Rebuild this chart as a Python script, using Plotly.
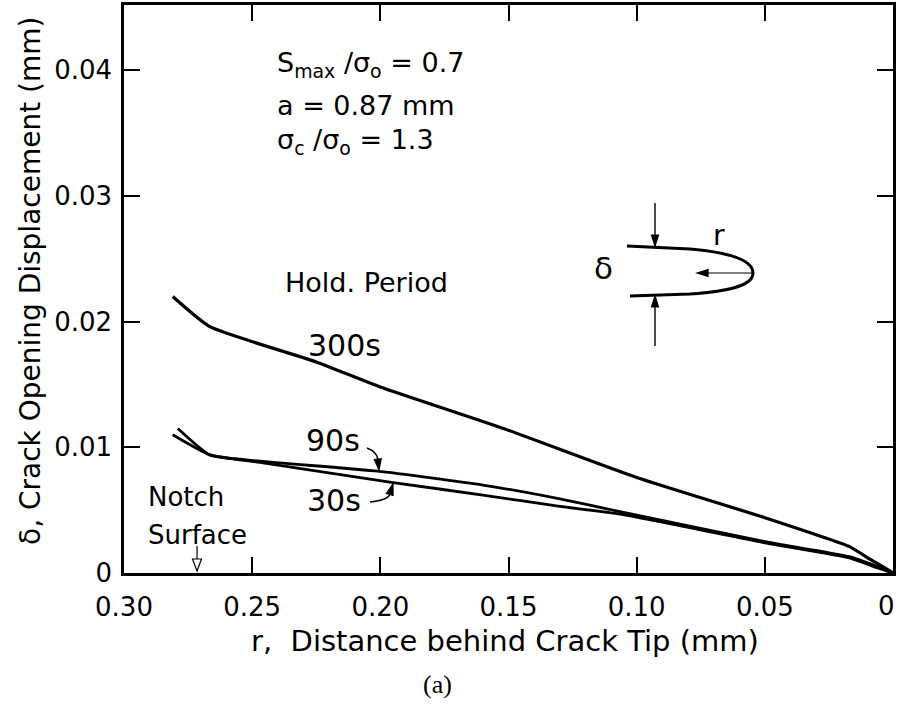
import math
import plotly.graph_objects as go

# Crack opening displacement profiles behind the crack tip for three hold periods
r_300 = [0.281, 0.2665, 0.225, 0.200, 0.152, 0.100, 0.050, 0.017, 0.009, 0.004, 0.0]
d_300 = [0.0220, 0.0196, 0.0168, 0.0148, 0.0115, 0.0076, 0.0044, 0.0021, 0.0011, 0.0005, 0.0]

r_90 = [0.279, 0.2665, 0.247, 0.201, 0.160, 0.130, 0.107, 0.050, 0.017, 0.006, 0.0]
d_90 = [0.0115, 0.0094, 0.0089, 0.0081, 0.0070, 0.0059, 0.0049, 0.0025, 0.0013, 0.0005, 0.0]

r_30 = [0.281, 0.2665, 0.247, 0.195, 0.160, 0.130, 0.107, 0.050, 0.017, 0.006, 0.0]
d_30 = [0.0110, 0.0094, 0.0088, 0.0072, 0.0062, 0.0053, 0.0047, 0.0024, 0.0012, 0.0004, 0.0]

x_ticks = [0.30, 0.25, 0.20, 0.15, 0.10, 0.05, 0.0]
x_ticktext = ["0.30", "0.25", "0.20", "0.15", "0.10", "0.05", "0"]
y_ticks = [0.0, 0.01, 0.02, 0.03, 0.04]
y_ticktext = ["0", "0.01", "0.02", "0.03", "0.04"]

FONT = "DejaVu Sans"
W, H = 898, 704
ML, MR, MT, MB = 124, 5, 5, 131
PW, PH = W - ML - MR, H - MT - MB


def px(X):
    """Page pixel column -> paper x."""
    return (X - ML) / PW


def py(Y):
    """Page pixel row -> paper y."""
    return (H - MB - Y) / PH


fig = go.Figure()
for r, d, w in [(r_300, d_300, 3.2), (r_90, d_90, 2.8), (r_30, d_30, 2.8)]:
    fig.add_trace(go.Scatter(
        x=r, y=d, mode="lines",
        line=dict(color="black", width=w, shape="spline", smoothing=0.5),
        showlegend=False, hoverinfo="skip",
    ))

ann = []
shapes = []


def label(text, X, Y, xanchor="center", size=26, family=FONT):
    ann.append(dict(text=text, x=px(X), y=py(Y), xref="paper", yref="paper",
                    xanchor=xanchor, yanchor="middle", showarrow=False,
                    font=dict(family=family, size=size, color="black")))


def arrow(Xh, Yh, Xt, Yt, ctrl=None, head_len=11, head_w=7, width=1.4,
          fill="black"):
    """Arrow from tail (Xt, Yt) to head (Xh, Yh); optional quadratic bend."""
    sx, sy = ctrl if ctrl else (Xt, Yt)
    dx, dy = Xh - sx, Yh - sy
    n = math.hypot(dx, dy)
    ux, uy = dx / n, dy / n
    bx, by = Xh - ux * head_len, Yh - uy * head_len
    qx, qy = -uy * head_w / 2, ux * head_w / 2
    if ctrl:
        stem = (f"M {px(Xt)} {py(Yt)} Q {px(ctrl[0])} {py(ctrl[1])} "
                f"{px(bx)} {py(by)}")
    else:
        stem = f"M {px(Xt)} {py(Yt)} L {px(bx)} {py(by)}"
    shapes.append(dict(type="path", path=stem, xref="paper", yref="paper",
                       line=dict(color="black", width=width)))
    head = (f"M {px(Xh)} {py(Yh)} L {px(bx + qx)} {py(by + qy)} "
            f"L {px(bx - qx)} {py(by - qy)} Z")
    shapes.append(dict(type="path", path=head, xref="paper", yref="paper",
                       fillcolor=fill, line=dict(color="black", width=1.2)))


# Loading parameters
label("S<sub>max</sub> /σ<sub>o</sub> = 0.7", 275, 64, "left", size=27)
label("a = 0.87 mm", 275, 105, "left", size=27)
label("σ<sub>c</sub> /σ<sub>o</sub> = 1.3", 275, 141, "left", size=27)

# Curve labels
label("Hold. Period", 366, 282, size=27)
label("300s", 344, 345, size=30)
label("90s", 333, 440, size=30)
label("30s", 334, 500, size=30)
label("Notch", 146, 497, "left")
label("Surface", 146, 535, "left")
arrow(197, 571, 197, 546, head_len=12, head_w=9, width=1.2, fill="white")

# Pointers from the 90s / 30s labels to their curves
arrow(379, 470, 367, 448, ctrl=(377, 452))
arrow(393, 484, 370, 502, ctrl=(388, 500))

# Crack-tip sketch: delta across the faces, r measured back from the tip
label("δ", 603, 268, size=31)
label("r", 719, 236, size=28)
arrow(655, 246, 655, 203)
arrow(655, 296, 655, 346)
arrow(697, 273, 752, 273, width=1.2)

crack = (
    f"M {px(627)} {py(246)} L {px(690)} {py(249)} "
    f"C {px(735)} {py(253)} {px(753)} {py(262)} {px(753)} {py(273)} "
    f"C {px(753)} {py(284)} {px(735)} {py(291)} {px(690)} {py(294)} "
    f"L {px(630)} {py(296)}"
)
shapes.append(dict(type="path", path=crack, xref="paper", yref="paper",
                   line=dict(color="black", width=3)))

# The crack-tip tick label sits against the page edge; draw it right-aligned
# so it stays fully on the page.
tip_label = x_ticktext[-1]
x_ticktext_drawn = x_ticktext[:-1] + [""]
ann.append(dict(text=tip_label, x=1.0, y=py(606), xref="paper", yref="paper",
                xanchor="right", yanchor="middle", xshift=4, showarrow=False,
                font=dict(family=FONT, size=26, color="black")))

# Axis titles and panel label
ann.append(dict(text="r,  Distance behind Crack Tip (mm)", x=px(505), y=py(641),
                xref="paper", yref="paper", showarrow=False, xanchor="center",
                yanchor="middle", font=dict(family=FONT, size=29, color="black")))
ann.append(dict(text="δ, Crack Opening Displacement (mm)", x=px(30), y=py(281),
                xref="paper", yref="paper", showarrow=False, textangle=-90,
                xanchor="center", yanchor="middle",
                font=dict(family=FONT, size=28, color="black")))
label("(a)", 437, 684, size=26, family="Liberation Serif")

axis_common = dict(
    showline=True, linecolor="black", linewidth=2.5, mirror="allticks",
    ticks="inside", ticklen=16, tickwidth=1.5, tickcolor="black",
    showgrid=False, zeroline=False, automargin=False,
    tickfont=dict(family=FONT, size=26, color="black"),
)

fig.update_layout(
    width=W, height=H,
    margin=dict(l=ML, r=MR, t=MT, b=MB),
    paper_bgcolor="white", plot_bgcolor="white",
    xaxis=dict(range=[0.30, 0.0], tickvals=x_ticks, ticktext=x_ticktext_drawn,
               ticklabelstandoff=9, **axis_common),
    yaxis=dict(range=[0.0, 0.0452], tickvals=y_ticks, ticktext=y_ticktext,
               ticklabelstandoff=4, **axis_common),
    annotations=ann, shapes=shapes,
)

fig.write_html("out.html")
